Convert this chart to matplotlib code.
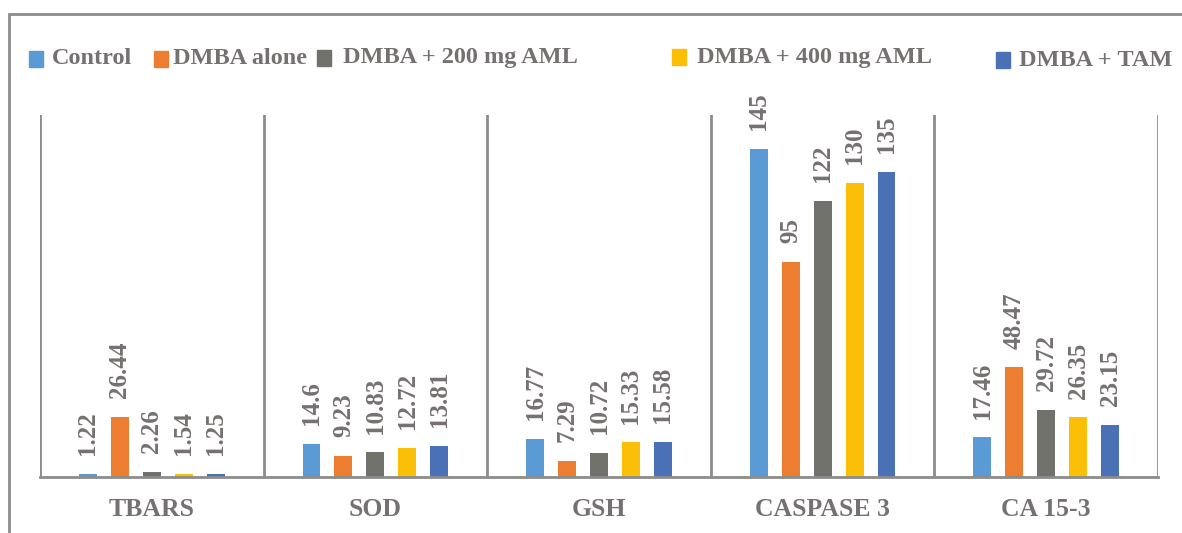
import matplotlib
matplotlib.use("Agg")
import matplotlib.pyplot as plt
from matplotlib.patches import Rectangle
import numpy as np

categories = ["TBARS", "SOD", "GSH", "CASPASE 3", "CA 15-3"]
series_names = ["Control", "DMBA alone", "DMBA + 200 mg AML", "DMBA + 400 mg AML", "DMBA + TAM"]
control = [1.22, 14.6, 16.77, 145, 17.46]
dmba_alone = [26.44, 9.23, 7.29, 95, 48.47]
dmba_200 = [2.26, 10.83, 10.72, 122, 29.72]
dmba_400 = [1.54, 12.72, 15.33, 130, 26.35]
dmba_tam = [1.25, 13.81, 15.58, 135, 23.15]
value_labels = [
    ["1.22", "14.6", "16.77", "145", "17.46"],
    ["26.44", "9.23", "7.29", "95", "48.47"],
    ["2.26", "10.83", "10.72", "122", "29.72"],
    ["1.54", "12.72", "15.33", "130", "26.35"],
    ["1.25", "13.81", "15.58", "135", "23.15"],
]
colors = ["#5B9BD5", "#ED7D31", "#72726D", "#FBBF08", "#4A70B6"]

series = [control, dmba_alone, dmba_200, dmba_400, dmba_tam]
text_color = "#767171"
line_color = "#8C8C8C"
font = "Liberation Serif"

fig = plt.figure(figsize=(11.82, 5.33), dpi=100)
ax = fig.add_axes([40 / 1182, 1 - 477 / 533, (1158 - 40) / 1182, (477 - 115) / 533])

x = np.arange(len(categories))
step = 0.143
width = 0.08
for i, (vals, col, labs) in enumerate(zip(series, colors, value_labels)):
    pos = x + (i - 2) * step
    ax.bar(pos, vals, width=width, color=col, zorder=2)
    for px, v, lab in zip(pos, vals, labs):
        ax.annotate(lab, (px, v), xytext=(0, 13.5), textcoords="offset points",
                    rotation=90, ha="center", va="bottom", fontsize=18,
                    fontweight="bold", family=font, color=text_color)

ax.set_xlim(-0.5, len(categories) - 0.5)
ax.set_ylim(0, 160)
for s in ["top", "right", "left"]:
    ax.spines[s].set_visible(False)
ax.spines["bottom"].set_color(line_color)
ax.spines["bottom"].set_linewidth(2)
for b in np.arange(len(categories) + 1) - 0.5:
    ax.axvline(b, color=line_color, lw=2, zorder=1)
ax.set_yticks([])
ax.set_xticks(x)
ax.set_xticklabels(categories, fontsize=18.5, fontweight="bold", family=font, color=text_color)
ax.tick_params(axis="x", length=0, pad=15)

# Legend entries placed along the top of the chart: (patch left, text left, centre y) in pixels
legend_pos = [(29, 52, 59), (154, 173, 59), (317, 343, 58), (672, 697, 57), (996, 1019, 60)]
for (px, tx, ly), name, col in zip(legend_pos, series_names, colors):
    fig.patches.append(Rectangle((px / 1182, 1 - (ly + 8) / 533), 14 / 1182, 16 / 533,
                                 transform=fig.transFigure, color=col))
    fig.text(tx / 1182, 1 - ly / 533, name, fontsize=17.5, fontweight="bold",
             family=font, color=text_color, ha="left", va="center")

# Outer frame
fig.patches.append(Rectangle((9.5 / 1182, -0.1), 1.2, 1.1 - 14 / 533, transform=fig.transFigure,
                             fill=False, edgecolor=line_color, lw=2))

fig.savefig("out.png", dpi=100)
